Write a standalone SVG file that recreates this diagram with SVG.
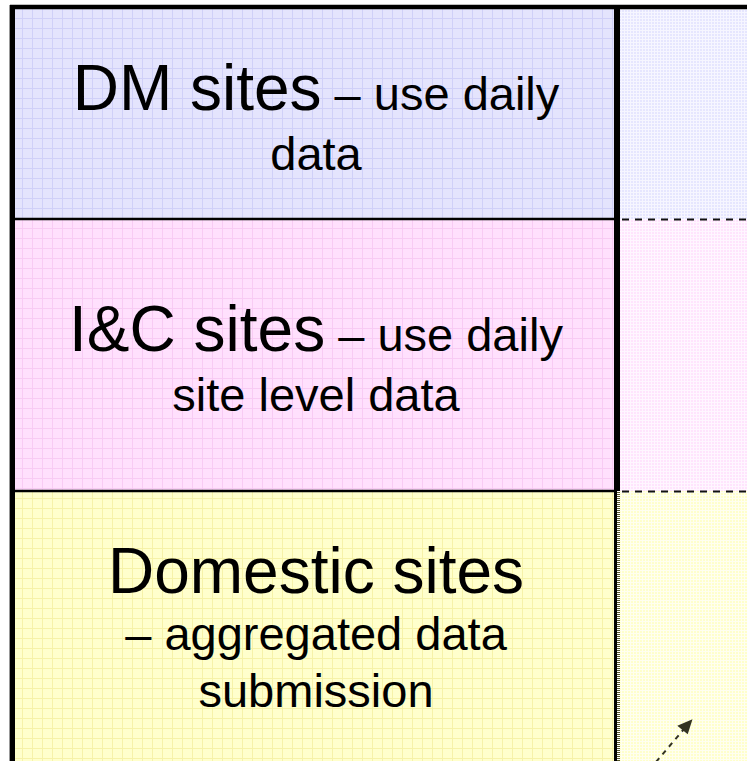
<svg xmlns="http://www.w3.org/2000/svg" width="747" height="761" viewBox="0 0 747 761">
  <defs>
    <!-- 10px grid fills for the label column -->
    <pattern id="gridBlue" patternUnits="userSpaceOnUse" x="2" y="8" width="10" height="10">
      <rect width="10" height="10" fill="#e4e4fd"/>
      <path d="M0.5 0V10M0 0.5H10" stroke="#d0d0f8" stroke-width="1"/>
    </pattern>
    <pattern id="gridPink" patternUnits="userSpaceOnUse" x="2" y="8" width="10" height="10">
      <rect width="10" height="10" fill="#ffe0fd"/>
      <path d="M0.5 0V10M0 0.5H10" stroke="#f8cbf4" stroke-width="1"/>
    </pattern>
    <pattern id="gridYellow" patternUnits="userSpaceOnUse" x="2" y="8" width="10" height="10">
      <rect width="10" height="10" fill="#ffffcc"/>
      <path d="M0.5 0V10M0 0.5H10" stroke="#f6f2a8" stroke-width="1"/>
    </pattern>
    <!-- fine lattice fills for the right-hand column -->
    <pattern id="fineBlue" patternUnits="userSpaceOnUse" width="3" height="3">
      <rect width="3" height="3" fill="#e6e6fe"/>
      <path d="M0.5 0V3M0 0.5H3" stroke="#f6f6ff" stroke-width="1"/>
    </pattern>
    <pattern id="finePink" patternUnits="userSpaceOnUse" width="3" height="3">
      <rect width="3" height="3" fill="#ffe4fd"/>
      <path d="M0.5 0V3M0 0.5H3" stroke="#fff6ff" stroke-width="1"/>
    </pattern>
    <pattern id="fineYellow" patternUnits="userSpaceOnUse" width="3" height="3">
      <rect width="3" height="3" fill="#ffffcc"/>
      <path d="M0.5 0V3M0 0.5H3" stroke="#fffff0" stroke-width="1"/>
    </pattern>
  </defs>
  <style>
    .big { font-family: "Liberation Sans", Arial, sans-serif; font-size: 64px; fill: #000; }
    .small { font-family: "Liberation Sans", Arial, sans-serif; font-size: 47px; fill: #000; }
    .rowline { stroke: #000; stroke-width: 2.5; }
    .dashline { stroke: #111; stroke-width: 2; stroke-dasharray: 7 6; }
    .frame { stroke: #000; fill: none; }
  </style>

  <rect width="747" height="761" fill="#ffffff"/>

  <!-- DM sites row -->
  <g id="dm-sites">
    <rect x="14" y="9" width="601" height="210" fill="url(#gridBlue)"/>
    <rect x="620" y="9" width="127" height="210" fill="url(#fineBlue)"/>
    <text x="316" y="110" text-anchor="middle"><tspan class="big">DM sites</tspan><tspan class="small"> – use daily</tspan></text>
    <text class="small" x="316" y="170" text-anchor="middle">data</text>
  </g>

  <!-- I&C sites row -->
  <g id="ic-sites">
    <rect x="14" y="219" width="601" height="272" fill="url(#gridPink)"/>
    <rect x="620" y="219" width="127" height="272" fill="url(#finePink)"/>
    <text x="316" y="351" text-anchor="middle"><tspan class="big">I&amp;C sites</tspan><tspan class="small"> – use daily</tspan></text>
    <text class="small" x="316" y="411" text-anchor="middle">site level data</text>
  </g>

  <!-- Domestic sites row -->
  <g id="domestic-sites">
    <rect x="14" y="491" width="601" height="270" fill="url(#gridYellow)"/>
    <rect x="620" y="491" width="127" height="270" fill="url(#fineYellow)"/>
    <text class="big" x="316" y="593" text-anchor="middle">Domestic sites</text>
    <text class="small" x="316" y="650" text-anchor="middle">– aggregated data</text>
    <text class="small" x="316" y="707" text-anchor="middle">submission</text>
  </g>

  <!-- table rules -->
  <g id="frame">
    <line class="rowline" x1="14" y1="219" x2="615" y2="219"/>
    <line class="rowline" x1="14" y1="491" x2="615" y2="491"/>
    <line class="dashline" x1="622" y1="219.5" x2="747" y2="219.5"/>
    <line class="dashline" x1="622" y1="491.5" x2="747" y2="491.5"/>
    <line x1="9.5" y1="5" x2="9.5" y2="761" stroke="#999" stroke-width="1"/>
    <line class="frame" x1="12.5" y1="5" x2="12.5" y2="761" stroke-width="5"/>
    <line class="frame" x1="10" y1="7" x2="747" y2="7" stroke-width="4.5"/>
    <line class="frame" x1="617" y1="5" x2="617" y2="491" stroke-width="6"/>
    <line class="frame" x1="615.5" y1="491" x2="615.5" y2="761" stroke-width="3"/>
    <line x1="618.5" y1="492" x2="618.5" y2="761" stroke="#55552a" stroke-width="3" stroke-dasharray="1 1"/>
  </g>

  <!-- connectors -->
  <g id="connectors">
    <line x1="656" y1="762" x2="684" y2="729" stroke="#333322" stroke-width="2" stroke-dasharray="5 5"/>
    <path d="M692.5 719.3L687.7 734.3L677.3 725.7Z" fill="#333322"/>
  </g>
</svg>
